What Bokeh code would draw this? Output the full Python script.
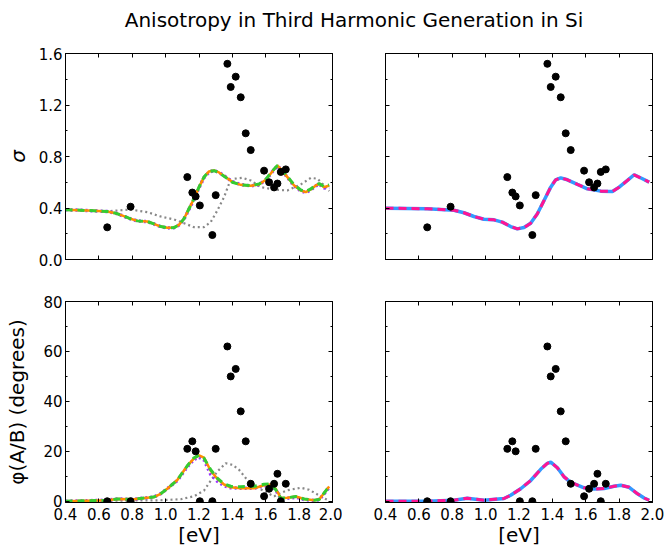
from bokeh.plotting import figure
from bokeh.models import FixedTicker, LinearAxis, PrintfTickFormatter, Range1d, Div, CustomJSTickFormatter
from bokeh.layouts import column, row
from bokeh.embed import file_html
from bokeh.resources import INLINE

FONT = "DejaVu Sans"

# ---------------- data ----------------
x_ticks = [0.4, 0.6, 0.8, 1.0, 1.2, 1.4, 1.6, 1.8, 2.0]
sigma_ticks = [0.0, 0.4, 0.8, 1.2, 1.6]
sigma_minor = [0.2, 0.6, 1.0, 1.4]
phi_ticks = [0, 20, 40, 60, 80]
phi_minor = [10, 30, 50, 70]

# experimental points
exp_e = [0.65, 0.79, 1.13, 1.16, 1.18, 1.205, 1.28, 1.30, 1.37, 1.39,
         1.42, 1.45, 1.48, 1.51, 1.59, 1.62, 1.65, 1.67, 1.69, 1.72]
exp_sigma = [0.25, 0.41, 0.64, 0.52, 0.49, 0.42, 0.19, 0.50, 1.52, 1.34,
             1.42, 1.26, 0.98, 0.85, 0.69, 0.60, 0.56, 0.59, 0.68, 0.70]
exp_phi = [0, 0, 21, 24, 20, 0, 0, 21, 62, 50,
           53, 36, 24, 7, 2, 5, 7, 11, 0, 7]

# left panels, sigma curves
s_e = [0.40, 0.49, 0.57, 0.65, 0.70, 0.75, 0.79, 0.83, 0.89, 0.93, 0.97, 1.01, 1.05,
       1.08, 1.11, 1.14, 1.17, 1.20, 1.23, 1.26, 1.29, 1.32, 1.36, 1.40, 1.45, 1.51,
       1.56, 1.60, 1.64, 1.67, 1.69, 1.73, 1.77, 1.81, 1.84, 1.87, 1.90, 1.92, 1.95, 1.98]
s_orange = [0.386, 0.383, 0.378, 0.373, 0.360, 0.337, 0.316, 0.300, 0.295, 0.277, 0.256,
            0.246, 0.248, 0.269, 0.316, 0.394, 0.472, 0.562, 0.640, 0.684, 0.692, 0.676,
            0.640, 0.601, 0.580, 0.572, 0.583, 0.619, 0.684, 0.730, 0.704, 0.640, 0.575,
            0.536, 0.523, 0.544, 0.575, 0.588, 0.562, 0.575]
s_green = [0.386, 0.383, 0.378, 0.373, 0.360, 0.337, 0.316, 0.300, 0.295, 0.277, 0.256,
           0.246, 0.248, 0.269, 0.316, 0.394, 0.472, 0.562, 0.640, 0.684, 0.690, 0.674,
           0.638, 0.600, 0.580, 0.574, 0.586, 0.622, 0.688, 0.730, 0.706, 0.644, 0.580,
           0.540, 0.528, 0.548, 0.578, 0.590, 0.566, 0.580]
s_purple = [0.386, 0.383, 0.378, 0.373, 0.360, 0.336, 0.315, 0.300, 0.294, 0.276, 0.255,
            0.245, 0.247, 0.268, 0.314, 0.390, 0.468, 0.558, 0.636, 0.680, 0.690, 0.676,
            0.642, 0.604, 0.582, 0.572, 0.582, 0.618, 0.682, 0.726, 0.702, 0.638, 0.572,
            0.532, 0.520, 0.540, 0.572, 0.585, 0.556, 0.560]
g_e = [0.40, 0.65, 0.79, 0.89, 0.97, 1.05, 1.11, 1.17, 1.23, 1.27, 1.31, 1.35, 1.38,
       1.41, 1.46, 1.51, 1.57, 1.65, 1.73, 1.81, 1.87, 1.91, 1.95, 1.98]
s_gray = [0.386, 0.375, 0.388, 0.368, 0.334, 0.311, 0.282, 0.251, 0.251, 0.290, 0.381,
          0.484, 0.588, 0.627, 0.634, 0.614, 0.562, 0.544, 0.536, 0.583, 0.634, 0.627,
          0.575, 0.531]

# right panel, sigma curve
r_e = [0.40, 0.65, 0.81, 0.87, 0.93, 0.99, 1.05, 1.10, 1.15, 1.19, 1.23, 1.27, 1.31,
       1.35, 1.39, 1.42, 1.45, 1.49, 1.55, 1.61, 1.69, 1.76, 1.80, 1.85, 1.89, 1.94, 1.98]
s_right = [0.399, 0.394, 0.383, 0.363, 0.334, 0.313, 0.308, 0.290, 0.256, 0.238, 0.248,
           0.282, 0.355, 0.458, 0.562, 0.619, 0.634, 0.619, 0.583, 0.549, 0.531, 0.528,
           0.562, 0.614, 0.658, 0.627, 0.601]

# left panels, phi curves
p_e = [0.40, 0.65, 0.71, 0.81, 0.93, 0.97, 1.01, 1.07, 1.13, 1.17, 1.20, 1.23, 1.27,
       1.31, 1.35, 1.39, 1.45, 1.53, 1.59, 1.63, 1.66, 1.69, 1.73, 1.78, 1.83, 1.89,
       1.92, 1.95, 1.98]
p_orange = [0.0, 0.4, 0.9, 0.8, 1.7, 3.0, 5.0, 8.5, 14.2, 17.2, 18.4, 17.5, 12.2, 9.0,
            6.7, 5.6, 5.2, 5.2, 6.4, 6.7, 5.0, 1.3, 1.4, 1.9, 0.9, 0.4, 0.7, 3.3, 5.9]
p_green = [0.0, 0.4, 0.9, 0.8, 1.7, 3.0, 5.0, 8.5, 14.2, 17.4, 18.4, 17.2, 12.6, 9.2,
           7.0, 6.0, 5.8, 6.0, 6.8, 7.0, 4.6, 1.2, 1.4, 1.9, 0.9, 0.4, 0.7, 3.3, 5.9]
p_purple = [0.0, 0.4, 0.9, 0.8, 1.7, 3.0, 5.0, 8.3, 13.8, 16.8, 17.6, 16.6, 10.8, 8.0,
            6.2, 5.4, 5.2, 5.2, 6.2, 6.4, 4.6, 1.0, 1.2, 1.6, 0.7, 0.3, 0.6, 3.0, 5.6]
pg_e = [0.40, 0.97, 1.09, 1.17, 1.23, 1.27, 1.31, 1.36, 1.40, 1.44, 1.48, 1.53, 1.59,
        1.65, 1.69, 1.73, 1.81, 1.86, 1.91, 1.95, 1.98]
p_gray = [0.0, 0.4, 0.8, 2.0, 4.3, 8.2, 11.9, 15.2, 14.6, 12.6, 9.3, 6.4, 4.0, 2.0, 3.3,
          4.4, 5.4, 4.6, 2.7, 1.2, 0.2]

# right panel, phi curve
pr_e = [0.40, 0.65, 0.81, 0.89, 0.99, 1.11, 1.15, 1.21, 1.27, 1.33, 1.37, 1.39, 1.43,
        1.47, 1.51, 1.59, 1.65, 1.71, 1.77, 1.81, 1.86, 1.91, 1.95, 1.98]
p_right = [0.0, 0.0, 0.4, 1.2, 0.4, 1.1, 2.4, 5.0, 8.3, 12.8, 15.2, 15.7, 13.4, 9.8,
           7.6, 5.4, 4.9, 5.1, 6.0, 6.4, 5.6, 3.0, 1.3, 0.4]


# ---------------- helpers ----------------
def style_axis(ax, ticks, minor, labels):
    ax.ticker = FixedTicker(ticks=ticks, minor_ticks=minor)
    ax.axis_line_color = "black"
    ax.axis_line_width = 1
    ax.major_tick_in = 4
    ax.major_tick_out = 0
    ax.minor_tick_in = 2
    ax.minor_tick_out = 0
    ax.major_tick_line_color = "black"
    ax.minor_tick_line_color = "black"
    ax.major_label_text_font = FONT
    ax.major_label_text_font_size = "15px"
    ax.major_label_text_color = "black"
    if labels:
        ax.formatter = labels
    else:
        ax.formatter = CustomJSTickFormatter(code="return ''")
        ax.major_label_standoff = 0


def make_fig(width, height, yr, mb, yt, ymin, xlab, ylab, ylabel=None,
             ylabel_style="normal", ylabel_standoff=6, xlabel=None):
    p = figure(width=width, height=height, x_range=Range1d(0.4, 2.0),
               y_range=Range1d(*yr), output_backend="svg", toolbar_location=None,
               min_border_left=mb[0], min_border_right=mb[1],
               min_border_top=mb[2], min_border_bottom=mb[3])
    p.grid.visible = False
    p.outline_line_color = "black"
    p.outline_line_alpha = 1.0
    p.outline_line_width = 1
    p.background_fill_color = "white"
    p.border_fill_color = "white"
    xax = p.xaxis[0]
    yax = p.yaxis[0]
    style_axis(xax, x_ticks, [], xlab)
    style_axis(yax, yt, ymin, ylab)
    xax.major_label_standoff = 5 if xlab else 0
    yax.major_label_standoff = 3 if ylab else 0
    if ylabel:
        yax.axis_label = ylabel
        yax.axis_label_text_font = FONT
        yax.axis_label_text_font_size = "20px"
        yax.axis_label_text_font_style = ylabel_style
        yax.axis_label_text_color = "black"
        yax.axis_label_standoff = ylabel_standoff
    if xlabel:
        xax.axis_label = xlabel
        xax.axis_label_text_font = FONT
        xax.axis_label_text_font_size = "20px"
        xax.axis_label_text_font_style = "normal"
        xax.axis_label_text_color = "black"
        xax.axis_label_standoff = 0
    top = LinearAxis()
    style_axis(top, x_ticks, [], None)
    p.add_layout(top, "above")
    right = LinearAxis()
    style_axis(right, yt, ymin, None)
    p.add_layout(right, "right")
    return p


fmt1 = PrintfTickFormatter(format="%.1f")
fmt0 = PrintfTickFormatter(format="%d")

GREEN = "#33cc33"
ORANGE = "#ff8c00"
PURPLE = "#9933ff"
GRAY = "#888888"
BLUE = "#3399ff"
MAGENTA = "#ff1493"

# top-left
tl = make_fig(342, 244, (0, 1.6), (65, 10, 17, 21), sigma_ticks, sigma_minor,
              None, fmt1, ylabel="σ", ylabel_style="italic", ylabel_standoff=6)
tl.line(g_e, s_gray, color=GRAY, line_width=2.2, line_dash="2 3")
tl.line(s_e, s_purple, color=PURPLE, line_width=3.5, line_dash="2 3")
tl.line(s_e, s_orange, color=ORANGE, line_width=2.5)
tl.line(s_e, s_green, color=GREEN, line_width=3, line_dash="7 5")
tl.scatter(exp_e, exp_sigma, size=7, color="black")

# top-right
tr = make_fig(322, 244, (0, 1.6), (43, 12, 17, 21), sigma_ticks, sigma_minor,
              None, None)
tr.line(r_e, s_right, color=BLUE, line_width=3.5)
tr.line(r_e, s_right, color=MAGENTA, line_width=3, line_dash="8 5")
tr.scatter(exp_e, exp_sigma, size=7, color="black")

# bottom-left
bl = make_fig(342, 270, (-0.5, 80), (65, 10, 21, 48), phi_ticks, phi_minor,
              fmt1, fmt0, ylabel="φ(A/B) (degrees)", ylabel_standoff=11, xlabel="[eV]")
bl.line(pg_e, p_gray, color=GRAY, line_width=2.2, line_dash="2 3")
bl.line(p_e, p_purple, color=PURPLE, line_width=3.5, line_dash="2 3")
bl.line(p_e, p_orange, color=ORANGE, line_width=2.5)
bl.line(p_e, p_green, color=GREEN, line_width=3, line_dash="7 5")
bl.scatter(exp_e, exp_phi, size=7, color="black")

# bottom-right
br = make_fig(322, 270, (-0.5, 80), (43, 12, 21, 48), phi_ticks, phi_minor,
              fmt1, None, xlabel="[eV]")
br.line(pr_e, p_right, color=BLUE, line_width=3.5)
br.line(pr_e, p_right, color=MAGENTA, line_width=3, line_dash="8 5")
br.scatter(exp_e, exp_phi, size=7, color="black")

title = Div(text='<div style="width:612px; margin-left:48px; padding-top:4px; '
                 'text-align:center; font-family:\'DejaVu Sans\'; font-size:20px; '
                 'line-height:32px; color:black; white-space:nowrap;">'
                 'Anisotropy in Third Harmonic Generation in Si</div>',
            width=664, height=36, margin=(0, 0, 0, 0))

layout = column(title, row(tl, tr, spacing=0), row(bl, br, spacing=0), spacing=0)

with open("out.html", "w") as f:
    f.write(file_html(layout, INLINE))
